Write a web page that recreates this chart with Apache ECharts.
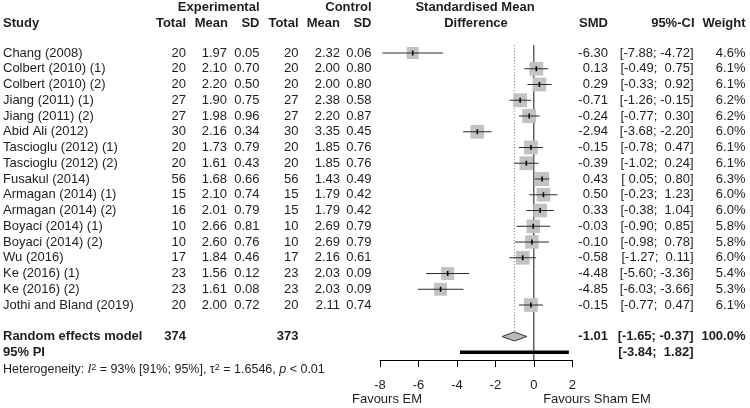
<!DOCTYPE html>
<html><head><meta charset="utf-8">
<script src="https://cdn.jsdelivr.net/npm/echarts@6/dist/echarts.min.js"></script>
<style>html,body{margin:0;padding:0;background:#fff}#c{width:750px;height:408px}</style>
</head><body><div id="c"></div>
<script>
const studies = ['Chang (2008)','Colbert (2010) (1)','Colbert (2010) (2)','Jiang (2011) (1)','Jiang (2011) (2)','Abid Ali (2012)','Tascioglu (2012) (1)','Tascioglu (2012) (2)','Fusakul (2014)','Armagan (2014) (1)','Armagan (2014) (2)','Boyaci (2014) (1)','Boyaci (2014) (2)','Wu (2016)','Ke (2016) (1)','Ke (2016) (2)','Jothi and Bland (2019)'];
const expTotal = [20,20,20,27,27,30,20,20,56,15,16,10,10,17,23,23,20];
const expMean = [1.97,2.10,2.20,1.90,1.98,2.16,1.73,1.61,1.68,2.10,2.01,2.66,2.60,1.84,1.56,1.61,2.00];
const expSD = [0.05,0.70,0.50,0.75,0.96,0.34,0.79,0.43,0.66,0.74,0.79,0.81,0.76,0.46,0.12,0.08,0.72];
const ctrlTotal = [20,20,20,27,27,30,20,20,56,15,15,10,10,17,23,23,20];
const ctrlMean = [2.32,2.00,2.00,2.38,2.20,3.35,1.85,1.85,1.43,1.79,1.79,2.69,2.69,2.16,2.03,2.03,2.11];
const ctrlSD = [0.06,0.80,0.80,0.58,0.87,0.45,0.76,0.76,0.49,0.42,0.42,0.79,0.79,0.61,0.09,0.09,0.74];
const smd = [-6.30,0.13,0.29,-0.71,-0.24,-2.94,-0.15,-0.39,0.43,0.50,0.33,-0.03,-0.10,-0.58,-4.48,-4.85,-0.15];
const ciLow = [-7.88,-0.49,-0.33,-1.26,-0.77,-3.68,-0.78,-1.02,0.05,-0.23,-0.38,-0.90,-0.98,-1.27,-5.60,-6.03,-0.77];
const ciHigh = [-4.72,0.75,0.92,-0.15,0.30,-2.20,0.47,0.24,0.80,1.23,1.04,0.85,0.78,0.11,-3.36,-3.66,0.47];
const weight = [4.6,6.1,6.1,6.2,6.2,6.0,6.1,6.1,6.3,6.0,6.0,5.8,5.8,6.0,5.4,5.3,6.1];
const pooled = {smd:-1.01, low:-1.65, high:-0.37, weight:100.0, expTotal:374, ctrlTotal:373};
const predInt = {low:-3.84, high:1.82};
const xTicks = [-8,-6,-4,-2,0,2];

const FONT = '"Liberation Sans", Arial, sans-serif';
const FS = 13;
const TXT = '#1e1e1e';
const ROW_POOLED = 18, ROW_PI = 19, ROW_HET = 20.1;

function pad(v){ const s = v.toFixed(2); return s.length < 5 ? ' ' + s : s; }
function ciStr(lo, hi){ return '[' + pad(lo) + '; ' + pad(hi) + ']'; }

function txt(text, x, y, align, bold, size, color){
  return {type:'text', silent:true, style:{text:text, x:x, y:y, align:align, textAlign:align,
    verticalAlign:'middle', textVerticalAlign:'middle', fontSize:size||FS, fontFamily:FONT,
    fontWeight:bold?'bold':'normal', fill:color||TXT}};
}

const COL = {study:3, eTot:186, eMean:227, eSD:259.5, cTot:298.5, cMean:340, cSD:371.5, smd:608, ci:693.5, w:745.5};

const chart = echarts.init(document.getElementById('c'), null, {renderer:'canvas'});
chart.setOption({
  animation:false,
  backgroundColor:'#fff',
  grid:{left:380, right:177.7, top:5.75, height:354.4, containLabel:false},
  xAxis:{type:'value', min:-8, max:2, interval:2,
    axisLine:{show:true, onZero:false, lineStyle:{color:'#000', width:1}},
    axisTick:{show:true, length:7, lineStyle:{color:'#000'}},
    axisLabel:{fontSize:FS, fontFamily:FONT, color:TXT, margin:19,
      formatter:function(v){ return xTicks.indexOf(v) >= 0 ? String(v) : ''; }},
    splitLine:{show:false}},
  yAxis:{type:'value', inverse:true, min:-3, max:19.5, show:false},
  series:[
    // reference lines
    {type:'custom', coordinateSystem:'cartesian2d', silent:true, clip:false, data:[[0]],
      renderItem:function(params, api){
        const top = api.coord([0,-0.5])[1];
        const bottom = api.coord([0,19.5])[1];
        const x0 = api.coord([0,0])[0];
        const xp = api.coord([pooled.smd,0])[0];
        const dTop = api.coord([0,ROW_POOLED])[1] - 4.5;
        return {type:'group', children:[
          {type:'line', shape:{x1:xp, y1:top, x2:xp, y2:dTop}, style:{stroke:'#7a7a7a', lineWidth:1, lineDash:[1,2]}},
          {type:'line', shape:{x1:x0, y1:top, x2:x0, y2:bottom}, style:{stroke:'#111', lineWidth:1}}
        ]};
      }},
    // study CIs and squares
    {type:'custom', coordinateSystem:'cartesian2d', silent:true, clip:false,
      data: studies.map((s,i)=>[smd[i], i, ciLow[i], ciHigh[i], weight[i]]),
      renderItem:function(params, api){
        const p = api.coord([api.value(0), api.value(1)]);
        const lo = api.coord([api.value(2), api.value(1)]);
        const hi = api.coord([api.value(3), api.value(1)]);
        const side = 5.58 * Math.sqrt(api.value(4));
        return {type:'group', children:[
          {type:'rect', shape:{x:p[0]-side/2, y:p[1]-side/2, width:side, height:side}, style:{fill:'#c2c2c2'}},
          {type:'line', shape:{x1:lo[0], y1:lo[1], x2:hi[0], y2:hi[1]}, style:{stroke:'#2a2a2a', lineWidth:1}},
          {type:'line', shape:{x1:p[0], y1:p[1]-2.5, x2:p[0], y2:p[1]+2.5}, style:{stroke:'#000', lineWidth:1.6}}
        ]};
      }},
    // pooled diamond
    {type:'custom', coordinateSystem:'cartesian2d', silent:true, clip:false,
      data:[[pooled.smd, ROW_POOLED, pooled.low, pooled.high]],
      renderItem:function(params, api){
        const c = api.coord([api.value(0), api.value(1)]);
        const l = api.coord([api.value(2), api.value(1)]);
        const r = api.coord([api.value(3), api.value(1)]);
        const h = 4.5;
        return {type:'polygon', shape:{points:[[l[0],c[1]],[c[0],c[1]-h],[r[0],c[1]],[c[0],c[1]+h]]},
          style:{fill:'#b8b8b8', stroke:'#333', lineWidth:1}};
      }},
    // prediction interval bar
    {type:'custom', coordinateSystem:'cartesian2d', silent:true, clip:false,
      data:[[predInt.low, ROW_PI, predInt.high]],
      renderItem:function(params, api){
        const l = api.coord([api.value(0), api.value(1)]);
        const r = api.coord([api.value(2), api.value(1)]);
        return {type:'line', shape:{x1:l[0], y1:l[1], x2:r[0], y2:r[1]}, style:{stroke:'#000', lineWidth:3.5}};
      }},
    // table rows
    {type:'custom', coordinateSystem:'cartesian2d', silent:true, clip:false,
      data: studies.map((s,i)=>[0,i]),
      renderItem:function(params, api){
        const i = params.dataIndex;
        const y = api.coord([0, i])[1];
        return {type:'group', children:[
          txt(studies[i], COL.study, y, 'left'),
          txt(String(expTotal[i]), COL.eTot, y, 'right'),
          txt(expMean[i].toFixed(2), COL.eMean, y, 'right'),
          txt(expSD[i].toFixed(2), COL.eSD, y, 'right'),
          txt(String(ctrlTotal[i]), COL.cTot, y, 'right'),
          txt(ctrlMean[i].toFixed(2), COL.cMean, y, 'right'),
          txt(ctrlSD[i].toFixed(2), COL.cSD, y, 'right'),
          txt(smd[i].toFixed(2), COL.smd, y, 'right'),
          txt(ciStr(ciLow[i], ciHigh[i]), COL.ci, y, 'right'),
          txt(weight[i].toFixed(1) + '%', COL.w, y, 'right')
        ]};
      }},
    // headers and summary rows
    {type:'custom', coordinateSystem:'cartesian2d', silent:true, clip:false, data:[[0,0]],
      renderItem:function(params, api){
        const y = r => api.coord([0, r])[1];
        const h1 = y(-2.9), h2 = y(-1.87), yp = y(ROW_POOLED), yi = y(ROW_PI), yh = y(ROW_HET);
        return {type:'group', children:[
          txt('Experimental', COL.eSD, h1, 'right', true),
          txt('Control', COL.cSD, h1, 'right', true),
          txt('Standardised Mean', 475, h1, 'center', true),
          txt('Study', COL.study, h2, 'left', true),
          txt('Total', COL.eTot, h2, 'right', true),
          txt('Mean', COL.eMean+1, h2, 'right', true),
          txt('SD', COL.eSD, h2, 'right', true),
          txt('Total', COL.cTot, h2, 'right', true),
          txt('Mean', COL.cMean, h2, 'right', true),
          txt('SD', COL.cSD, h2, 'right', true),
          txt('Difference', 476, h2, 'center', true),
          txt('SMD', COL.smd, h2, 'right', true),
          txt('95%-CI', COL.ci+1, h2, 'right', true),
          txt('Weight', COL.w, h2, 'right', true),
          txt('Random effects model', COL.study, yp, 'left', true),
          txt(String(pooled.expTotal), COL.eTot, yp, 'right', true),
          txt(String(pooled.ctrlTotal), COL.cTot, yp, 'right', true),
          txt(pooled.smd.toFixed(2), COL.smd, yp, 'right', true),
          txt(ciStr(pooled.low, pooled.high), COL.ci, yp, 'right', true),
          txt(pooled.weight.toFixed(1) + '%', COL.w, yp, 'right', true),
          txt('95% PI', COL.study, yi, 'left', true),
          txt(ciStr(predInt.low, predInt.high), COL.ci, yi, 'right', true),
          {type:'text', silent:true, style:{
            text:'Heterogeneity: {it|I}{sup|2} = 93% [91%; 95%], τ{sup|2} = 1.6546, {it|p} < 0.01',
            x:COL.study, y:yh, align:'left', textAlign:'left', verticalAlign:'middle', textVerticalAlign:'middle',
            fontSize:12.5, fontFamily:FONT, fill:TXT, lineHeight:14,
            rich:{it:{fontStyle:'italic', fontSize:12.5, fontFamily:FONT, fill:TXT},
                  sup:{fontSize:9, fontFamily:FONT, fill:TXT, verticalAlign:'top', lineHeight:14}}}},
          txt('Favours EM', 387, 399, 'center'),
          txt('Favours Sham EM', 597, 399, 'center')
        ]};
      }}
  ]
});
</script></body></html>
